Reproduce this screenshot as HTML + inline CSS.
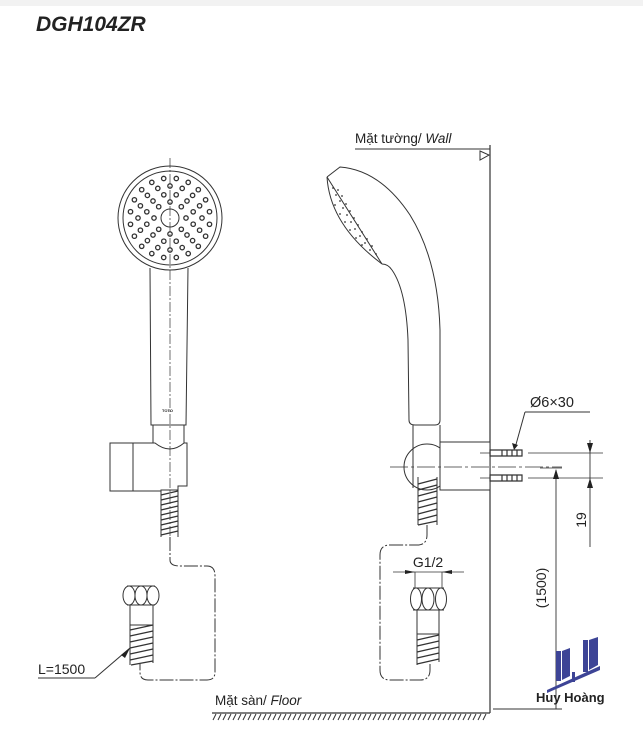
<!DOCTYPE html>
<html><head><meta charset="utf-8"><style>
html,body{margin:0;padding:0;background:#fff;}
svg{display:block;}
text{font-family:"Liberation Sans","DejaVu Sans",sans-serif;fill:#222;}
</style></head><body>
<svg width="643" height="736" viewBox="0 0 643 736" xmlns="http://www.w3.org/2000/svg">
<rect x="0" y="0" width="643" height="6" fill="#f2f2f2"/>
<text x="36" y="31" font-size="21" font-weight="bold" font-style="italic" fill="#2b2b2b">DGH104ZR</text>

<g stroke="#333" stroke-width="1" fill="none">
<!-- left front view -->
<line x1="170" y1="158" x2="170" y2="545" stroke-dasharray="10,2,2,2" stroke-width="0.7"/>
<circle cx="170" cy="218" r="52"/>
<circle cx="170" cy="218" r="47"/>
<circle cx="170" cy="218" r="9"/>
<path d="M150 268 L151 425 L186 425 L188 268"/>
<path d="M153 425 L153 443 M184 425 L184 443"/>
<!-- bracket -->
<rect x="110" y="443" width="23" height="48"/>
<path d="M133 443 L155 443 Q170 455 184 443 L187 443 L187 486 L178 486 L178 490 L161 490 L161 491 L133 491"/>
<!-- hose threads -->
<path d="M161 490 L161 537 M178 490 L178 537"/>
<g stroke-width="1.3">
<path d="M161 495 L178 491 M161 500 L178 496 M161 505 L178 501 M161 510 L178 506 M161 515 L178 511 M161 520 L178 516 M161 525 L178 521 M161 530 L178 526 M161 535 L178 531"/>
</g>
<path d="M170 537 L170 560 Q170 566 180 566 L207 566 Q215 566 215 576 L215 672 Q215 680 207 680 L148 680 Q140 680 140 672 L140 664" stroke-dasharray="14,2,2,2"/>
<!-- fitting -->
<path d="M127 586 L155 586 M127 605 L155 605"/>
<ellipse cx="129" cy="595.5" rx="6" ry="9.5"/><ellipse cx="141" cy="595.5" rx="6" ry="9.5"/><ellipse cx="153" cy="595.5" rx="6" ry="9.5"/>
<rect x="130" y="605" width="23" height="20"/>
<path d="M130 625 L130 665 M153 625 L153 663"/>
<g stroke-width="1.3"><path d="M130 630 L153 625 M130 636 L153 631 M130 642 L153 637 M130 648 L153 643 M130 654 L153 649 M130 660 L153 655 M131 665 L153 661"/></g>
<path d="M95 678 L130 648"/>
<path d="M38 678 L95 678"/>

<!-- wall -->
<line x1="490" y1="145" x2="490" y2="713" stroke-width="1.2"/>
<line x1="355" y1="149" x2="490" y2="149"/>
<path d="M480 151 L489 155 L480 160 Z"/>
<!-- floor -->
<line x1="212" y1="713" x2="490" y2="713" stroke-width="1.2"/>
<path d="M213 720 L216 714 M218 720 L221 714 M223 720 L226 714 M228 720 L231 714 M233 720 L236 714 M238 720 L241 714 M243 720 L246 714 M248 720 L251 714 M253 720 L256 714 M258 720 L261 714 M263 720 L266 714 M268 720 L271 714 M273 720 L276 714 M278 720 L281 714 M283 720 L286 714 M288 720 L291 714 M293 720 L296 714 M298 720 L301 714 M303 720 L306 714 M308 720 L311 714 M313 720 L316 714 M318 720 L321 714 M323 720 L326 714 M328 720 L331 714 M333 720 L336 714 M338 720 L341 714 M343 720 L346 714 M348 720 L351 714 M353 720 L356 714 M358 720 L361 714 M363 720 L366 714 M368 720 L371 714 M373 720 L376 714 M378 720 L381 714 M383 720 L386 714 M388 720 L391 714 M393 720 L396 714 M398 720 L401 714 M403 720 L406 714 M408 720 L411 714 M413 720 L416 714 M418 720 L421 714 M423 720 L426 714 M428 720 L431 714 M433 720 L436 714 M438 720 L441 714 M443 720 L446 714 M448 720 L451 714 M453 720 L456 714 M458 720 L461 714 M463 720 L466 714 M468 720 L471 714 M473 720 L476 714 M478 720 L481 714 M483 720 L486 714"/>

<!-- side view head -->
<path d="M327 177 L340 167 Q380 170 410 215 Q438 260 440 330 L440 420 Q440 425 435 425 L415 425 Q409 425 409 420 L408 340 Q406 290 392 270 Q388 264 382 264"/>
<path d="M327 177 L382 264"/>
<path d="M327 177 Q330 225 382 264"/>
<g fill="#333" stroke="none">
<circle cx="333" cy="188" r="0.9"/><circle cx="336" cy="195" r="0.9"/><circle cx="340" cy="201" r="0.9"/><circle cx="343" cy="208" r="0.9"/><circle cx="347" cy="215" r="0.9"/><circle cx="351" cy="222" r="0.9"/><circle cx="355" cy="229" r="0.9"/><circle cx="360" cy="236" r="0.9"/><circle cx="365" cy="243" r="0.9"/><circle cx="370" cy="250" r="0.9"/>
<circle cx="338" cy="190" r="0.9"/><circle cx="342" cy="196" r="0.9"/><circle cx="346" cy="204" r="0.9"/><circle cx="350" cy="211" r="0.9"/><circle cx="354" cy="218" r="0.9"/><circle cx="358" cy="225" r="0.9"/><circle cx="362" cy="232" r="0.9"/><circle cx="367" cy="239" r="0.9"/><circle cx="372" cy="246" r="0.9"/><circle cx="376" cy="254" r="0.9"/>
<circle cx="335" cy="205" r="0.9"/><circle cx="340" cy="214" r="0.9"/><circle cx="345" cy="222" r="0.9"/><circle cx="350" cy="230" r="0.9"/><circle cx="356" cy="238" r="0.9"/><circle cx="362" cy="245" r="0.9"/>
</g>
<path d="M413 425 L413 447 M440 425 L440 447"/>
<circle cx="427" cy="467" r="23"/>
<rect x="440" y="442" width="50" height="48" fill="#fff"/>
<path d="M413 447 L413 488 M440 447 L440 488"/>
<line x1="390" y1="467" x2="562" y2="467" stroke-dasharray="18,3,3,3" stroke-width="0.7"/>
<!-- anchors -->
<g stroke-width="1.2">
<path d="M490 450 L522 450 L522 456 L490 456 Z M490 475 L522 475 L522 481 L490 481 Z"/>
<path d="M502 450 L502 456 M507 450 L507 456 M512 450 L512 456 M517 450 L517 456 M502 475 L502 481 M507 475 L507 481 M512 475 L512 481 M517 475 L517 481"/>
</g>
<path d="M480 453 L490 453 M480 478 L490 478" stroke-width="0.7"/>
<path d="M528 453 L603 453 M528 478 L603 478 M540 468 L562 468" stroke-width="0.7"/>
<!-- side hose -->
<path d="M418 477 L418 525 M437 477 L437 525"/>
<g stroke-width="1.3"><path d="M418 484 L437 479 M418 490 L437 485 M418 496 L437 491 M418 502 L437 497 M418 508 L437 503 M418 514 L437 509 M418 520 L437 515 M418 525 L437 521"/></g>
<path d="M427 525 L427 535 Q427 545 417 545 L390 545 Q380 545 380 555 L380 670 Q380 680 390 680 L420 680 Q430 680 430 670 L430 664" stroke-dasharray="14,2,2,2"/>
<path d="M413 588 L444 588 M413 610 L444 610"/>
<ellipse cx="416" cy="599" rx="5.5" ry="11"/><ellipse cx="428" cy="599" rx="6" ry="11"/><ellipse cx="441" cy="599" rx="5.5" ry="11"/>
<rect x="417" y="610" width="22" height="24"/>
<path d="M417 634 L417 665 M439 634 L439 662"/>
<g stroke-width="1.3"><path d="M417 640 L439 635 M417 646 L439 641 M417 652 L439 647 M417 658 L439 653 M417 664 L439 659"/></g>
<path d="M415 572 L415 588 M442 572 L442 588 M393 572 L464 572" stroke-width="0.8"/>
<!-- dims -->
<path d="M590 440 L590 547 M556 470 L556 709 M493 709 L562 709" stroke-width="0.9"/>
<path d="M525 412 L590 412 M525 412 L515 448"/>
</g>
<g fill="#222">
<path d="M587 443 L593 443 L590 453 Z M587 488 L593 488 L590 478 Z M553 479 L559 479 L556 469 Z M512 443 L518 445 L514 450 Z"/>
<path d="M393 570 L403 572 L393 574 Z" transform="translate(12,0)"/>
<path d="M464 570 L454 572 L464 574 Z" transform="translate(-12,0)"/>
<path d="M121 655 L130 648 L125 658 Z"/>
</g>
<g id="dots"></g>
<text x="162" y="412" font-size="4" font-weight="bold">TOTO</text>
<text x="355" y="143" font-size="13.5">Mặt tường/ <tspan font-style="italic">Wall</tspan></text>
<text x="215" y="705" font-size="13.5">Mặt sàn/ <tspan font-style="italic">Floor</tspan></text>
<text x="38" y="674" font-size="14">L=1500</text>
<text x="530" y="407" font-size="14.5">Ø6×30</text>
<text x="428" y="567" font-size="14" text-anchor="middle">G1/2</text>
<text transform="translate(586,520) rotate(-90)" font-size="14" text-anchor="middle">19</text>
<text transform="translate(546,588) rotate(-90)" font-size="14" text-anchor="middle">(1500)</text>
<!-- logo -->
<g fill="#3d4496">
<rect x="556" y="651" width="5" height="30"/>
<polygon points="562,651 570,648 570,676 562,680"/>
<rect x="583" y="640" width="5" height="32"/>
<polygon points="589,640 598,637 598,665 589,670"/>
<polygon points="547,690 600,666 600,670 547,693"/>
<rect x="572" y="672" width="3" height="10"/>
<text x="536" y="702" font-size="13" font-weight="bold" fill="#3d4496">Huy Hoàng</text>
</g>
</svg>
<script>
var g=document.getElementById('dots'),ns='http://www.w3.org/2000/svg',s='';
var rings=[[16,8],[24,12],[32,16],[40,20]];
rings.forEach(function(r,i){for(var k=0;k<r[1];k++){var a=(k+(i%2?0.5:0))*2*Math.PI/r[1];s+='<circle cx="'+(170+r[0]*Math.cos(a)).toFixed(1)+'" cy="'+(218+r[0]*Math.sin(a)).toFixed(1)+'" r="2.2" fill="none" stroke="#333" stroke-width="1.3"/>';}});
g.innerHTML=s;
</script>
</body></html>
